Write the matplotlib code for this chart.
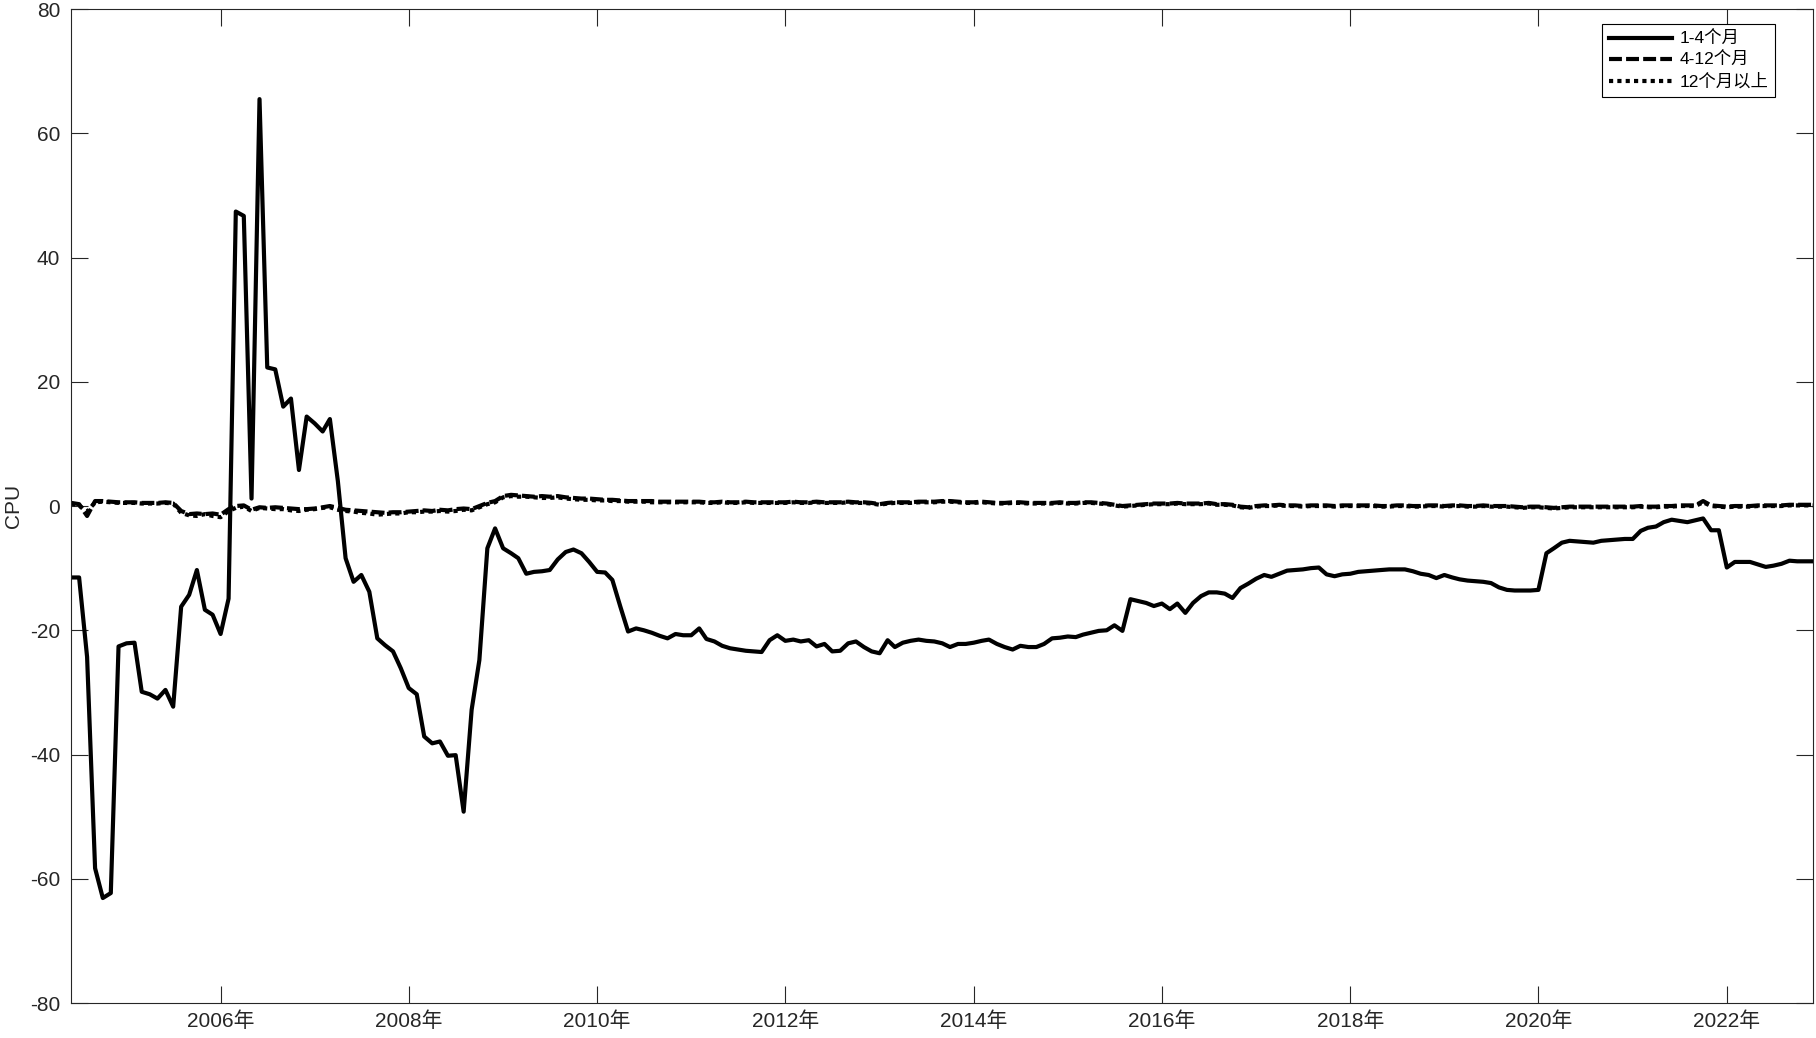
import matplotlib
matplotlib.use('Agg')
import matplotlib.pyplot as plt
import pandas as pd

#-----------------------------------------------------------------------
# data: monthly, 2004-06 .. 2022-12

start_month = '2004-06-01'
n_months = 223

series_labels = ['1-4个月', '4-12个月', '12个月以上']

cpu_1_4 = [
    -11.5, -11.5, -24.3, -58.3, -63.1, -62.3, -22.6,                           # 2004
    -22.1, -22.0, -29.9, -30.3, -31.0, -29.6, -32.3, -16.2, -14.3, -10.3, -16.7, -17.5,  # 2005
    -20.6, -14.9, 47.4, 46.7, 1.2, 65.5, 22.3, 22.0, 16.0, 17.3, 5.8, 14.4,      # 2006
    13.3, 12.0, 14.0, 4.0, -8.4, -12.2, -11.1, -13.8, -21.3, -22.4, -23.4, -26.1,  # 2007
    -29.3, -30.3, -37.1, -38.2, -37.9, -40.2, -40.1, -49.2, -32.8, -24.8, -6.8, -3.6,  # 2008
    -6.8, -7.6, -8.4, -10.9, -10.6, -10.5, -10.3, -8.6, -7.4, -7.0, -7.6, -9.0,  # 2009
    -10.6, -10.7, -11.9, -16.2, -20.2, -19.7, -20.0, -20.4, -20.9, -21.3, -20.6, -20.8,  # 2010
    -20.8, -19.7, -21.4, -21.8, -22.5, -22.9, -23.1, -23.3, -23.4, -23.5, -21.6, -20.8,  # 2011
    -21.7, -21.5, -21.8, -21.6, -22.6, -22.2, -23.4, -23.3, -22.1, -21.8, -22.7, -23.4,  # 2012
    -23.7, -21.6, -22.7, -22.0, -21.7, -21.5, -21.7, -21.8, -22.1, -22.7, -22.2, -22.2,  # 2013
    -22.0, -21.7, -21.5, -22.2, -22.7, -23.1, -22.5, -22.7, -22.7, -22.2, -21.3, -21.2,  # 2014
    -21.0, -21.1, -20.7, -20.4, -20.1, -20.0, -19.2, -20.1, -15.0, -15.3, -15.6, -16.1,  # 2015
    -15.7, -16.6, -15.7, -17.2, -15.6, -14.5, -13.9, -13.9, -14.1, -14.8, -13.2, -12.5,  # 2016
    -11.7, -11.1, -11.4, -10.9, -10.4, -10.3, -10.2, -10.0, -9.9, -11.0, -11.3, -11.0,  # 2017
    -10.9, -10.6, -10.5, -10.4, -10.3, -10.2, -10.2, -10.2, -10.5, -10.9, -11.1, -11.6,  # 2018
    -11.1, -11.5, -11.8, -12.0, -12.1, -12.2, -12.4, -13.1, -13.5, -13.6, -13.6, -13.6,  # 2019
    -13.5, -7.6, -6.8, -5.9, -5.6, -5.7, -5.8, -5.9, -5.6, -5.5, -5.4, -5.3,     # 2020
    -5.3, -4.0, -3.5, -3.3, -2.6, -2.2, -2.4, -2.6, -2.3, -2.0, -3.9, -3.9,      # 2021
    -9.9, -9.0, -9.0, -9.0, -9.4, -9.8, -9.6, -9.3, -8.8, -8.9, -8.9, -8.9,      # 2022
]

cpu_4_12 = [
    0.5, 0.3, -1.6, 0.8, 0.8, 0.7, 0.6,
    0.6, 0.6, 0.5, 0.5, 0.5, 0.6, 0.5, -0.8, -1.3, -1.2, -1.3, -1.2,
    -1.4, -0.5, 0.0, 0.1, -0.6, -0.2, -0.3, -0.2, -0.3, -0.4, -0.5, -0.5,
    -0.4, -0.2, 0.0, -0.3, -0.6, -0.7, -0.8, -0.9, -1.0, -1.1, -1.0, -1.0,
    -0.9, -0.8, -0.7, -0.8, -0.6, -0.7, -0.5, -0.4, -0.5, 0.0, 0.5, 0.8,
    1.6, 1.8, 1.7, 1.6, 1.5, 1.6, 1.5, 1.6, 1.4, 1.3, 1.2, 1.2,
    1.1, 1.0, 1.0, 0.9, 0.8, 0.8, 0.8, 0.8, 0.7, 0.7, 0.7, 0.7,
    0.7, 0.7, 0.6, 0.6, 0.7, 0.6, 0.6, 0.7, 0.6, 0.6, 0.6, 0.6,
    0.6, 0.7, 0.6, 0.6, 0.7, 0.6, 0.6, 0.6, 0.7, 0.6, 0.6, 0.5,
    0.3, 0.5, 0.6, 0.6, 0.6, 0.7, 0.7, 0.7, 0.8, 0.8, 0.7, 0.6,
    0.6, 0.7, 0.6, 0.5, 0.5, 0.6, 0.6, 0.5, 0.5, 0.5, 0.5, 0.6,
    0.5, 0.5, 0.6, 0.6, 0.5, 0.4, 0.2, 0.0, 0.1, 0.2, 0.3, 0.4,
    0.4, 0.4, 0.5, 0.4, 0.4, 0.4, 0.5, 0.3, 0.3, 0.2, -0.1, -0.2,
    0.0, 0.1, 0.1, 0.2, 0.1, 0.1, 0.0, 0.1, 0.1, 0.1, 0.0, 0.1,
    0.1, 0.1, 0.1, 0.1, 0.0, 0.0, 0.1, 0.1, 0.0, 0.0, 0.1, 0.1,
    0.0, 0.1, 0.1, 0.0, 0.0, 0.1, 0.0, 0.0, 0.0, -0.1, -0.2, -0.1,
    -0.1, -0.2, -0.3, -0.2, -0.1, -0.1, -0.1, -0.1, -0.1, -0.1, -0.1, -0.1,
    -0.1, 0.0, -0.1, -0.1, 0.0, 0.0, 0.1, 0.1, 0.1, 0.8, 0.1, 0.0,
    -0.1, 0.0, 0.0, 0.0, 0.1, 0.1, 0.1, 0.1, 0.2, 0.2, 0.2, 0.2,
]

cpu_12_plus = [
    0.4, 0.1, -0.9, 0.6, 0.7, 0.6, 0.5,
    0.5, 0.5, 0.4, 0.4, 0.4, 0.5, 0.4, -1.1, -1.5, -1.6, -1.3, -1.6,
    -1.8, -0.8, -0.3, -0.1, -0.8, -0.3, -0.4, -0.5, -0.5, -0.7, -0.8, -0.6,
    -0.5, -0.3, -0.2, -0.6, -0.8, -0.9, -1.1, -1.2, -1.4, -1.3, -1.2, -1.2,
    -1.0, -1.0, -0.9, -0.9, -0.8, -0.9, -0.8, -0.6, -0.7, -0.2, 0.3, 0.6,
    1.4, 1.6, 1.5, 1.5, 1.4, 1.3, 1.3, 1.4, 1.2, 1.1, 1.0, 1.0,
    0.9, 0.9, 0.8, 0.8, 0.7, 0.7, 0.7, 0.6, 0.6, 0.6, 0.6, 0.6,
    0.6, 0.6, 0.5, 0.5, 0.6, 0.5, 0.5, 0.6, 0.5, 0.5, 0.5, 0.5,
    0.5, 0.6, 0.5, 0.5, 0.6, 0.5, 0.5, 0.5, 0.6, 0.5, 0.5, 0.4,
    0.2, 0.4, 0.5, 0.5, 0.5, 0.6, 0.6, 0.6, 0.7, 0.7, 0.6, 0.5,
    0.5, 0.6, 0.5, 0.4, 0.4, 0.5, 0.5, 0.4, 0.4, 0.4, 0.4, 0.5,
    0.4, 0.4, 0.5, 0.5, 0.4, 0.3, 0.1, -0.1, 0.0, 0.1, 0.2, 0.3,
    0.3, 0.3, 0.4, 0.3, 0.3, 0.3, 0.4, 0.2, 0.2, 0.1, -0.2, -0.3,
    -0.1, 0.0, 0.0, 0.1, 0.0, 0.0, -0.1, 0.0, 0.0, 0.0, -0.1, 0.0,
    0.0, 0.0, 0.0, 0.0, -0.1, -0.1, 0.0, 0.0, -0.1, -0.1, 0.0, 0.0,
    -0.1, 0.0, 0.0, -0.1, -0.1, 0.0, -0.1, -0.1, -0.1, -0.2, -0.3, -0.2,
    -0.2, -0.3, -0.4, -0.3, -0.2, -0.2, -0.2, -0.2, -0.2, -0.2, -0.2, -0.2,
    -0.2, -0.1, -0.2, -0.2, -0.1, -0.1, 0.0, 0.0, 0.0, 0.6, 0.0, -0.1,
    -0.2, -0.1, -0.1, -0.1, 0.0, 0.0, 0.0, 0.0, 0.1, 0.1, 0.1, 0.1,
]

tick_years = [2006, 2008, 2010, 2012, 2014, 2016, 2018, 2020, 2022]
y_ticks = [-80, -60, -40, -20, 0, 20, 40, 60, 80]

#-----------------------------------------------------------------------

def main():
    plt.rcParams['font.family'] = ['Liberation Sans', 'Noto Sans CJK SC']

    dates = pd.date_range(start_month, periods=n_months, freq='MS')

    fig = plt.figure(figsize=(18.16, 10.38), dpi=100)
    ax = fig.add_axes([0.0393, 0.0337, 0.9590, 0.9576])

    ax.plot(dates, cpu_1_4, color='black', lw=3, label=series_labels[0])
    ax.plot(dates, cpu_4_12, color='black', lw=3, linestyle=(0, (3.1, 1.0)),
            label=series_labels[1])
    ax.plot(dates, cpu_12_plus, color='black', lw=3, linestyle=(0, (1, 1)),
            label=series_labels[2])

    ax.set_xlim(dates[0], dates[-1])
    ax.set_ylim(-80, 80)
    ax.set_yticks(y_ticks)
    ax.set_yticklabels([str(v) for v in y_ticks])
    ax.set_xticks([pd.Timestamp(str(y) + '-01-01') for y in tick_years])
    ax.set_xticklabels([str(y) + '年' for y in tick_years])

    ax.tick_params(direction='in', length=12, width=0.8, top=True, right=True,
                   labelsize=15, colors='0.15')
    ax.tick_params(axis='y', pad=8)
    ax.tick_params(axis='x', pad=6)
    for s in ax.spines.values():
        s.set_linewidth(0.8)
        s.set_color('0.15')

    # label coords mark the right edge of the rotated text
    ax.set_ylabel('CPU', fontsize=15, color='0.15')
    ax.yaxis.set_label_coords(-0.028, 0.5)

    leg = ax.legend(loc='upper right', bbox_to_anchor=(1 - 0.0215, 1 - 0.015),
                    borderaxespad=0, fontsize=12.5, handlelength=3.6,
                    handletextpad=0.45, labelspacing=0.3, borderpad=0.4,
                    fancybox=False, framealpha=1, edgecolor='black')
    leg.get_frame().set_linewidth(0.8)

    plt.savefig('out.png', dpi=100)

#-----------------------------------------------------------------------

if __name__ == '__main__':
    main()
